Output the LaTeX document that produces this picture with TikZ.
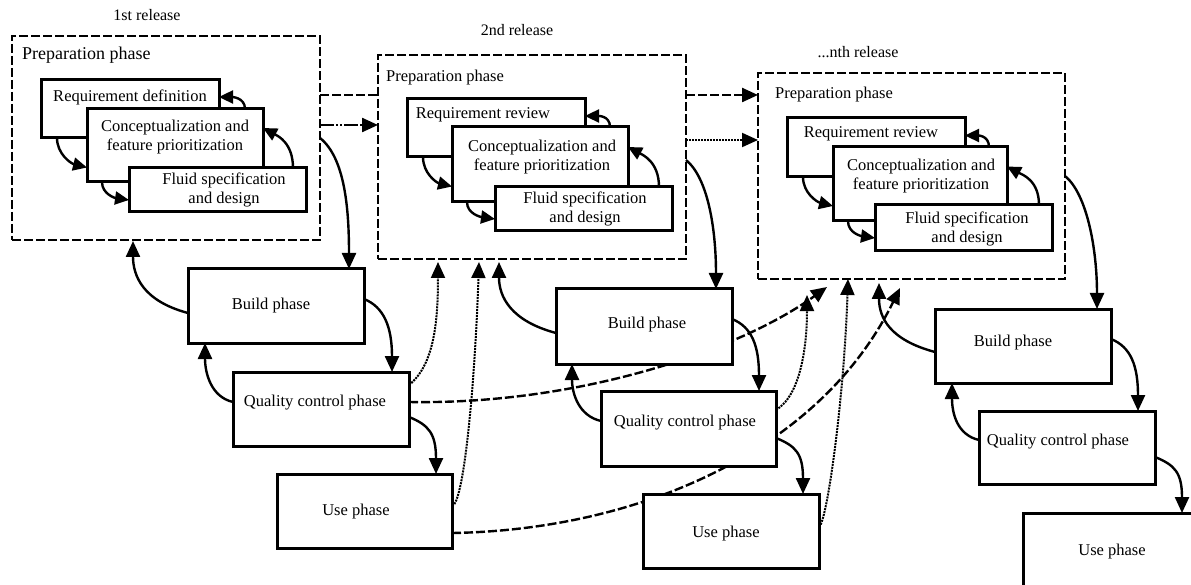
\documentclass[tikz,border=0pt]{standalone}
\usepackage{fontspec}
\setmainfont{Liberation Serif}
\usetikzlibrary{arrows.meta,backgrounds}
\begin{document}
\begin{tikzpicture}[x=1pt,y=-1pt,
  box/.style={draw,line width=3pt,fill=white,inner sep=0pt,outer sep=0pt,anchor=north west,minimum width=176pt,minimum height=74pt},
  prepbox/.style={draw,line width=2.5pt,fill=white,dash pattern=on 9pt off 3pt,inner sep=0pt,outer sep=0pt,anchor=north west,minimum width=308pt,minimum height=204pt},
  txt/.style={font=\fontsize{16.5}{19}\selectfont,align=center,inner sep=0pt},
  head/.style={font=\fontsize{16}{19}\selectfont,inner sep=0pt},
  tip/.style={-{Triangle[length=16pt,width=14pt]}},
  flow/.style={line width=2.4pt,tip},
  small/.style={line width=2.4pt,-{Triangle[length=14pt,width=13pt]}},
  dotflow/.style={line width=2pt,dash pattern=on 2pt off 1pt,tip},
  dashflow/.style={line width=2.4pt,dash pattern=on 9pt off 3pt},
  dashdotflow/.style={line width=2.4pt,dash pattern=on 14pt off 2pt on 2pt off 2pt on 2pt off 2pt,tip},
]
\useasboundingbox (0,0) rectangle (1191,585);

% ---------- headers ----------
\node[head] (h1) at (147,15) {1st release};
\node[head] (h2) at (517,30) {2nd release};
\node[head] (h3) at (858,52) {...nth release};

% ---------- preparation boxes ----------
\node[prepbox] (P1) at (12,36) {};
\node[prepbox] (P2) at (378,55) {};
\node[prepbox,minimum width=307pt,minimum height=206pt] (P3) at (758,73) {};
\node[txt,anchor=west,font=\fontsize{18}{20}\selectfont] (p1t) at (22,55) {Preparation phase};
\node[txt,anchor=west] (p2t) at (386,78) {Preparation phase};
\node[txt,anchor=west] (p3t) at (775,95) {Preparation phase};

% release 1 stacked boxes
\node[box,minimum width=178pt,minimum height=58pt] (R1a) at (41,80) {};
\node[txt] at (130,97) {Requirement definition};
\node[box,minimum width=176pt,minimum height=73pt] (R1b) at (87,109) {};
\node[txt] at (175,137.5) {Conceptualization and\\feature prioritization};
\node[box,minimum width=177pt,minimum height=44pt] (R1c) at (129,168) {};
\node[txt] at (224,190) {Fluid specification\\and design};

% release 2 stacked boxes
\node[box,minimum width=178pt,minimum height=58pt] (R2a) at (407,99) {};
\node[txt] at (483,115) {Requirement review};
\node[box,minimum width=176pt,minimum height=75pt] (R2b) at (452,127) {};
\node[txt] at (542,157.5) {Conceptualization and\\feature prioritization};
\node[box,minimum width=177pt,minimum height=44pt] (R2c) at (495,187) {};
\node[txt] at (585,209) {Fluid specification\\and design};

% release n stacked boxes
\node[box,minimum width=178pt,minimum height=59pt] (R3a) at (787,118) {};
\node[txt] at (871,134) {Requirement review};
\node[box,minimum width=174pt,minimum height=74pt] (R3b) at (833,147) {};
\node[txt] at (921,176.5) {Conceptualization and\\feature prioritization};
\node[box,minimum width=177pt,minimum height=46pt] (R3c) at (875,205) {};
\node[txt] at (967,228.5) {Fluid specification\\and design};

% ---------- phase boxes ----------
\node[box] (B1) at (188,269) {};
\node[txt] at (271,306) {Build phase};
\node[box] (Q1) at (233,372) {};
\node[txt] at (315,403) {Quality control phase};
\node[box,minimum width=175pt] (U1) at (277,474) {};
\node[txt] at (356,512) {Use phase};

\node[box,minimum height=75pt] (B2) at (556,289) {};
\node[txt] at (647,325) {Build phase};
\node[box,minimum width=175pt,minimum height=75pt] (Q2) at (601,391) {};
\node[txt] at (685,423) {Quality control phase};
\node[box] (U2) at (643,494) {};
\node[txt] at (726,534) {Use phase};

\node[box] (B3) at (935,309) {};
\node[txt] at (1013,343) {Build phase};
\node[box,minimum height=73pt] (Q3) at (979,411) {};
\node[txt] at (1058,442) {Quality control phase};
\begin{scope}
\clip (0,0) rectangle (1191,585);
\node[box] (U3) at (1023,513) {};
\end{scope}
\node[txt] at (1112,552) {Use phase};

% ---------- long dashed curves (behind boxes) ----------
\begin{scope}[on background layer]
\draw[dashflow,tip] ([yshift=-22pt]U1.east) .. controls +(187,-3) and +(-80,163) .. ([xshift=142pt,yshift=-9pt]P3.south west);
\draw[dashflow,tip] ([yshift=7pt]Q1.east) .. controls +(170,3) and +(-87,63) .. ([xshift=69pt,yshift=-8pt]P3.south west);
\end{scope}

% ---------- inter-release connectors ----------
\coordinate (a1) at ([yshift=43pt]P1.east);
\coordinate (a2) at ([yshift=13pt]P1.east);
\coordinate (a3) at ([yshift=62pt]P2.east);
\coordinate (a4) at ([yshift=17pt]P2.east);
\draw[dashflow] (a1) -- (a1 -| P2.west);
\draw[dashdotflow] (a2) -- (a2 -| P2.west);
\draw[dashflow,tip] (a3) -- (a3 -| P3.west);
\draw[dotflow] (a4) -- (a4 -| P3.west);

% ---------- arrows inside preparation boxes ----------
\draw[small] ([xshift=-18pt]R1b.north east) .. controls +(0,-12) and +(12,0) .. ([yshift=12pt]R1a.east);
\draw[small] ([xshift=-13pt]R1c.north east) .. controls +(0,-25) and +(15,8) .. ([yshift=17.5pt]R1b.east);
\draw[small] ([xshift=16pt]R1a.south west) .. controls +(0,16) and +(-16,-4) .. ([yshift=-22pt]R1b.west);
\draw[small] ([xshift=15pt]R1b.south west) .. controls +(0,12) and +(-14,-2) .. ([yshift=-10pt]R1c.west);

\draw[small] ([xshift=-18pt]R2b.north east) .. controls +(0,-12) and +(12,0) .. ([yshift=12pt]R2a.east);
\draw[small] ([xshift=-13pt]R2c.north east) .. controls +(0,-25) and +(15,8) .. ([yshift=17.5pt]R2b.east);
\draw[small] ([xshift=16pt]R2a.south west) .. controls +(0,16) and +(-16,-4) .. ([yshift=-22pt]R2b.west);
\draw[small] ([xshift=15pt]R2b.south west) .. controls +(0,12) and +(-14,-2) .. ([yshift=-10pt]R2c.west);

\draw[small] ([xshift=-18pt]R3b.north east) .. controls +(0,-12) and +(12,0) .. ([yshift=12pt]R3a.east);
\draw[small] ([xshift=-13pt]R3c.north east) .. controls +(0,-25) and +(15,8) .. ([yshift=17.5pt]R3b.east);
\draw[small] ([xshift=16pt]R3a.south west) .. controls +(0,16) and +(-16,-4) .. ([yshift=-22pt]R3b.west);
\draw[small] ([xshift=15pt]R3b.south west) .. controls +(0,12) and +(-14,-2) .. ([yshift=-10pt]R3c.west);

% ---------- release 1 flow ----------
\draw[flow] (P1.east) .. controls +(25,20) and +(0,-60) .. ([xshift=-15pt]B1.north east);
\draw[flow] ([yshift=-7pt]B1.west) .. controls +(-45,-12) and +(0,35) .. ([xshift=-33pt,yshift=-1pt]P1.south);
\draw[flow] ([yshift=7pt]B1.east) .. controls +(20,8) and +(0,-45) .. ([xshift=-17pt]Q1.north east);
\draw[flow] ([yshift=7pt]Q1.west) .. controls +(-22,-5) and +(0,30) .. ([xshift=17pt]B1.south west);
\draw[flow] ([yshift=-8pt]Q1.east) .. controls +(20,8) and +(0,-40) .. ([xshift=-16pt]U1.north east);
\draw[dotflow] ([yshift=24pt]Q1.east) .. controls +(25,-20) and +(0,60) .. ([xshift=60pt,yshift=-3pt]P2.south west);
\draw[dotflow] ([yshift=5pt]U1.east) .. controls +(12,-2) and +(-4,120) .. ([xshift=101pt,yshift=-3pt]P2.south west);

% ---------- release 2 flow ----------
\draw[flow] ([yshift=-3pt]P2.east) .. controls +(22,18) and +(0,-60) .. ([xshift=-16pt]B2.north east);
\draw[flow] ([yshift=-6.5pt]B2.west) .. controls +(-45,-12) and +(0,35) .. ([xshift=121pt,yshift=-3pt]P2.south west);
\draw[flow] ([yshift=7.5pt]B2.east) .. controls +(20,8) and +(0,-45) .. ([xshift=-17pt]Q2.north east);
\draw[flow] ([yshift=7.5pt]Q2.west) .. controls +(-22,-5) and +(0,30) .. ([xshift=16pt]B2.south west);
\draw[flow] ([yshift=-9.5pt]Q2.east) .. controls +(20,8) and +(0,-40) .. ([xshift=-16pt]U2.north east);
\draw[dotflow] ([yshift=18.5pt]Q2.east) .. controls +(25,-15) and +(0,50) .. ([xshift=49pt,yshift=-16pt]P3.south west);
\draw[dotflow] ([yshift=4pt]U2.east) .. controls +(8,-5) and +(-4,120) .. ([xshift=90pt]P3.south west);

% ---------- release n flow ----------
\draw[flow] (P3.east) .. controls +(22,18) and +(0,-60) .. ([xshift=-14pt]B3.north east);
\draw[flow] ([yshift=-6pt]B3.west) .. controls +(-45,-12) and +(0,35) .. ([xshift=121pt,yshift=-4pt]P3.south west);
\draw[flow] ([yshift=7pt]B3.east) .. controls +(20,8) and +(0,-45) .. ([xshift=-17pt]Q3.north east);
\draw[flow] ([yshift=7.5pt]Q3.west) .. controls +(-22,-5) and +(0,30) .. ([xshift=17pt]B3.south west);
\draw[flow] ([yshift=-9.5pt]Q3.east) .. controls +(20,8) and +(0,-40) .. ([xshift=159pt]U3.north west);
\end{tikzpicture}
\end{document}
